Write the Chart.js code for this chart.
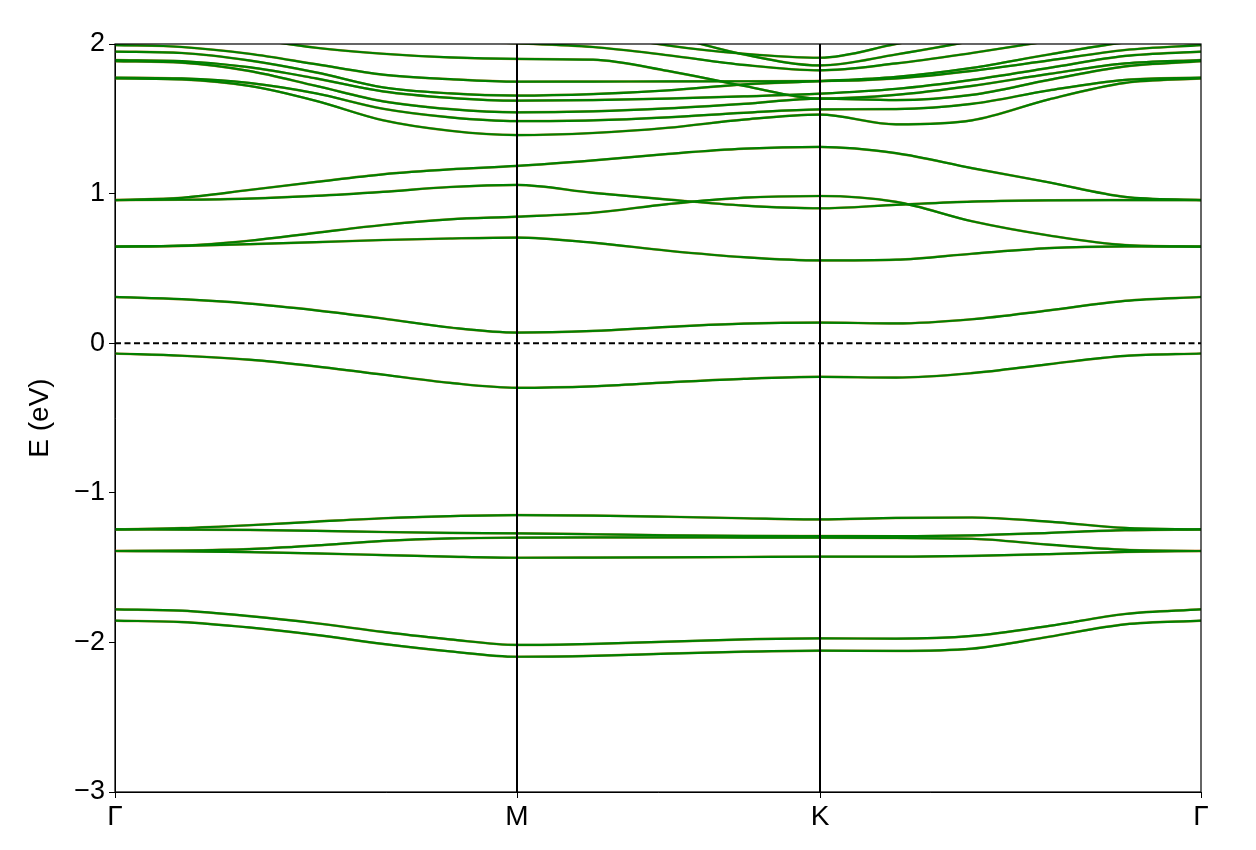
<!DOCTYPE html>
<html><head><meta charset="utf-8">
<script src="https://cdn.jsdelivr.net/npm/chart.js@4/dist/chart.umd.min.js"></script>
<style>html,body{margin:0;padding:0;background:#fff}canvas{display:block}</style>
</head><body>
<canvas id="c" width="1256" height="850"></canvas>
<script>
// k-path distances (arbitrary units) and high-symmetry points
const kPath = [0, 67, 134, 201, 268, 335, 402, 478, 553, 629, 705, 781, 857, 934, 1010, 1086];
const kTicks = [0, 402, 705, 1086];
const kLabels = ['Γ', 'M', 'K', 'Γ'];
const energyTicks = [-3, -2, -1, 0, 1, 2];
const fermiLevel = 0;

// band energies (eV) along kPath
const bandL1 = [-1.855, -1.864, -1.9, -1.95, -2.01, -2.06, -2.096, -2.09, -2.075, -2.062, -2.055, -2.057, -2.042, -1.962, -1.879, -1.855];
const bandL2 = [-1.779, -1.788, -1.824, -1.872, -1.93, -1.98, -2.017, -2.01, -1.995, -1.98, -1.973, -1.975, -1.957, -1.89, -1.81, -1.779];
const bandM4 = [-1.389, -1.391, -1.396, -1.405, -1.416, -1.427, -1.434, -1.433, -1.431, -1.429, -1.427, -1.427, -1.422, -1.41, -1.395, -1.389];
const bandM3 = [-1.389, -1.386, -1.376, -1.352, -1.322, -1.305, -1.3, -1.298, -1.298, -1.299, -1.3, -1.302, -1.307, -1.347, -1.381, -1.389];
const bandM2 = [-1.245, -1.246, -1.248, -1.254, -1.262, -1.268, -1.271, -1.277, -1.284, -1.288, -1.289, -1.29, -1.285, -1.268, -1.25, -1.245];
const bandM1 = [-1.245, -1.236, -1.217, -1.193, -1.17, -1.156, -1.149, -1.152, -1.16, -1.17, -1.178, -1.168, -1.165, -1.193, -1.235, -1.245];
const bandVB = [-0.069, -0.084, -0.11, -0.155, -0.21, -0.265, -0.298, -0.288, -0.262, -0.238, -0.225, -0.23, -0.2, -0.14, -0.085, -0.069];
const bandCB = [0.309, 0.294, 0.265, 0.22, 0.165, 0.105, 0.071, 0.082, 0.109, 0.131, 0.138, 0.132, 0.16, 0.22, 0.283, 0.309];
const bandC4 = [0.646, 0.65, 0.662, 0.675, 0.69, 0.7, 0.706, 0.672, 0.618, 0.575, 0.553, 0.558, 0.598, 0.636, 0.647, 0.646];
const bandC3 = [0.646, 0.652, 0.685, 0.738, 0.79, 0.828, 0.846, 0.872, 0.93, 0.973, 0.984, 0.945, 0.815, 0.72, 0.656, 0.646];
const bandC2 = [0.957, 0.959, 0.967, 0.985, 1.012, 1.044, 1.058, 1.005, 0.96, 0.92, 0.902, 0.925, 0.947, 0.955, 0.957, 0.957];
const bandC1 = [0.957, 0.972, 1.024, 1.078, 1.129, 1.162, 1.185, 1.222, 1.265, 1.3, 1.312, 1.27, 1.17, 1.075, 0.978, 0.957];
const bandUf = [1.77, 1.763, 1.72, 1.62, 1.49, 1.42, 1.391, 1.405, 1.44, 1.495, 1.528, 1.463, 1.49, 1.63, 1.74, 1.77];
const bandUe = [1.775, 1.77, 1.74, 1.67, 1.567, 1.51, 1.485, 1.49, 1.51, 1.54, 1.563, 1.565, 1.6, 1.69, 1.76, 1.775];
const bandUd = [1.885, 1.875, 1.82, 1.72, 1.617, 1.565, 1.543, 1.55, 1.57, 1.6, 1.635, 1.625, 1.66, 1.76, 1.85, 1.885];
const bandUc = [1.893, 1.885, 1.845, 1.77, 1.683, 1.64, 1.621, 1.625, 1.635, 1.65, 1.668, 1.7, 1.76, 1.84, 1.92, 1.949];
const bandUb = [1.949, 1.94, 1.89, 1.81, 1.71, 1.67, 1.655, 1.665, 1.69, 1.73, 1.752, 1.78, 1.84, 1.93, 2.01, 2.04];
const bandUa = [1.993, 1.98, 1.935, 1.865, 1.795, 1.765, 1.748, 1.749, 1.75, 1.751, 1.752, 1.77, 1.82, 1.89, 1.96, 1.993];
const bandUg = [2.15, 2.12, 2.04, 1.975, 1.935, 1.91, 1.9, 1.895, 1.82, 1.72, 1.635, 1.66, 1.72, 1.8, 1.87, 1.893];
const bandUh = [2.4, 2.35, 2.25, 2.15, 2.07, 2.02, 2.005, 1.98, 1.925, 1.86, 1.824, 1.87, 1.94, 2.02, 2.1, 2.15];
const bandUi = [2.55, 2.54, 2.5, 2.45, 2.4, 2.37, 2.35, 2.2, 2.06, 1.93, 1.857, 1.93, 2.02, 2.12, 2.2, 2.25];
const bandUj = [2.6, 2.58, 2.52, 2.43, 2.35, 2.27, 2.2, 2.08, 1.99, 1.935, 1.908, 2.0, 2.1, 2.2, 2.3, 2.35];

const bands = [bandL1, bandL2, bandM4, bandM3, bandM2, bandM1, bandVB, bandCB,
  bandC4, bandC3, bandC2, bandC1, bandUf, bandUe, bandUd, bandUc, bandUb, bandUa,
  bandUg, bandUh, bandUi, bandUj];

const FONT = "'Liberation Sans', Arial, Helvetica, sans-serif";

const datasets = [];
datasets.push({
  data: [{x: kTicks[0], y: fermiLevel}, {x: kTicks[kTicks.length - 1], y: fermiLevel}],
  borderColor: '#000', borderWidth: 2, borderDash: [6, 3.5], pointRadius: 0, order: 0, clip: 0
});
bands.forEach(b => {
  datasets.push({
    data: kPath.map((k, i) => ({x: k, y: b[i]})),
    borderColor: '#008000', borderWidth: 2.2, pointRadius: 0,
    cubicInterpolationMode: 'monotone', order: 1, clip: 0
  });
});
bands.forEach(b => {
  datasets.push({
    data: kPath.map((k, i) => ({x: k, y: b[i]})),
    borderColor: 'rgb(200,140,70)', borderWidth: 2.5, pointRadius: 0,
    cubicInterpolationMode: 'monotone', order: 2, clip: 0
  });
});

const framePlugin = {
  id: 'frame',
  afterDatasetsDraw(chart) {
    const {ctx, chartArea: {left, right, top, bottom}, scales: {x}} = chart;
    ctx.save();
    ctx.strokeStyle = '#000';
    ctx.lineWidth = 2;
    kTicks.slice(1, -1).forEach(v => {
      const px = Math.round(x.getPixelForValue(v));
      ctx.beginPath(); ctx.moveTo(px, top); ctx.lineTo(px, bottom); ctx.stroke();
    });
    ctx.lineWidth = 1.2;
    ctx.strokeRect(left, top, right - left, bottom - top);
    ctx.restore();
  }
};

new Chart(document.getElementById('c'), {
  type: 'line',
  data: {datasets},
  plugins: [framePlugin],
  options: {
    responsive: false, animation: false, events: [],
    layout: {padding: {left: 0, right: 55, top: 44, bottom: 0}},
    plugins: {legend: {display: false}, tooltip: {enabled: false}},
    scales: {
      x: {
        type: 'linear', min: kTicks[0], max: kTicks[kTicks.length - 1],
        afterFit(s) { s.height = 58; },
        afterBuildTicks(s) { s.ticks = kTicks.map(v => ({value: v})); },
        ticks: {autoSkip: false, maxRotation: 0, padding: 2, color: '#000',
          font: {family: FONT, size: 28},
          callback: (v) => kLabels[kTicks.indexOf(v)]},
        grid: {drawOnChartArea: false, drawTicks: true, tickLength: 6, color: '#000', lineWidth: 1},
        border: {display: true, color: '#000', width: 1}
      },
      y: {
        type: 'linear', min: -3, max: 2,
        afterFit(s) { s.width = 115; },
        afterBuildTicks(s) { s.ticks = energyTicks.map(v => ({value: v})); },
        ticks: {padding: 4, color: '#000', font: {family: FONT, size: 27},
          callback: (v) => v < 0 ? '\u2212' + Math.abs(v) : String(v)},
        grid: {drawOnChartArea: false, drawTicks: true, tickLength: 6, color: '#000', lineWidth: 1},
        border: {display: true, color: '#000', width: 1},
        title: {display: true, text: 'E (eV)', color: '#000', font: {family: FONT, size: 28},
          padding: {top: 23, bottom: 0}}
      }
    }
  }
});
</script>
</body></html>
